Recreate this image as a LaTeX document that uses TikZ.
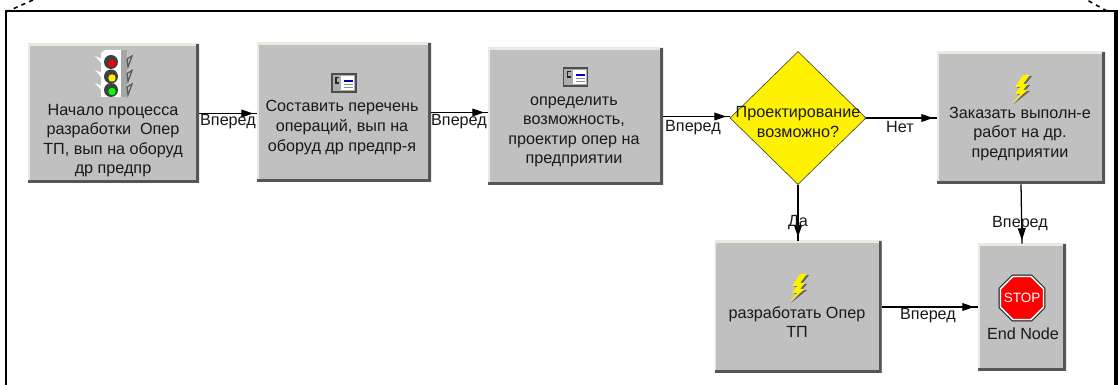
\documentclass[tikz,border=0pt]{standalone}
\usepackage{fontspec}
\setmainfont{Liberation Sans}
\usetikzlibrary{shapes.geometric,decorations.markings,arrows.meta}
\definecolor{boxgray}{RGB}{192,192,192}
\definecolor{edgegray}{RGB}{85,85,85}
\definecolor{litegray}{RGB}{236,233,225}
\tikzset{
    opbox/.style 2 args={rectangle,fill=boxgray,inner sep=0pt,
        minimum width=#1*0.025cm,minimum height=#2*0.025cm,
        path picture={
            \draw[litegray,line width=2.6pt] (path picture bounding box.south west)
                --(path picture bounding box.north west)--(path picture bounding box.north east);
            \draw[edgegray,line width=3.6pt] (path picture bounding box.south west)
                --(path picture bounding box.south east)--(path picture bounding box.north east);
        }},
    boxtext/.style={align=center,inner sep=0pt,text=black!90,font=\fontsize{11.5}{13.9}\selectfont},
    linktext/.style={inner sep=0pt,text=black!90,font=\fontsize{11.5}{12}\selectfont},
    flow/.style={line width=0.9pt,postaction={decorate},decoration={markings,
        mark=at position -2.5pt with {\arrow{Triangle[length=8.5pt,width=5.5pt]}}}},
    cardicon/.pic={
        \draw[black!70,fill=boxgray!90!black,line width=0.8pt] (-12,-9) rectangle (12,9);
        \fill[white] (-3,-7) rectangle (10,7);
        \draw[black!85,line width=1pt] (-8,-5.5)--(-5,-5.5) (-8,-5.5)--(-8,0)--(-5,0);
        \draw[blue!70!black,line width=0.9pt] (0,-2)--(9,-2);
        \draw[black!45,line width=0.7pt] (0,1.5)--(9,1.5) (0,4.5)--(9,4.5);
    },
    bolticon/.pic={
        \fill[black!60] (4,-13)--(-4,-1)--(1,-1)--(-4,6)--(1,6)--(-7,15)--(9,2)--(4,2)--(9,-4)--(4,-4)--(11,-13)--cycle;
        \path[fill=yellow] (2,-14)--(-6,-2)--(-1,-2)--(-6,5)--(-1,5)--(-9,14)--(7,1)--(2,1)--(7,-5)--(2,-5)--(9,-14)--cycle;
    },
    lighticon/.pic={
        \fill[white] (-18,-17)--(-11,-14)--(-11,-9)--cycle (-18,-3)--(-11,0)--(-11,5)--cycle (-18,10)--(-11,13)--(-11,18)--cycle;
        \fill[white] (-12,-20)--(-8,-23)--(14,-23)--(14,24)--(-12,24)--cycle;
        \fill[black!35] (8,-23)--(14,-23)--(14,24)--(8,24)--cycle;
        \foreach \ly/\lc in {-11/red,3.5/yellow,17/green}{
            \fill[black!75] (-2,\ly) circle (7);
            \fill[\lc] (-1,\ly+1.5) circle (3.7);
            \draw[black!65,line width=0.9pt] (15,\ly+5)--(19,\ly-6)--(14,\ly-3)--cycle;
        }
    },
}
\begin{document}
\begin{tikzpicture}[x=0.025cm,y=-0.025cm]
    \useasboundingbox (0,0) rectangle (1118,385);
    \fill[white] (0,0) rectangle (1118,385);
    % outer frame
    \draw[line width=1.4pt] (6,385)--(6,11)--(1116,11);
    \draw[line width=2.2pt] (1116,10)--(1116,385);
    \draw[line width=1.1pt,dashed] (6,12)--(33,0);
    \draw[line width=1.1pt,dashed] (1107,11)--(1087,0);
    % process boxes
    \node[opbox={171}{139}] (start) at (113.5,113.5) {};
    \node[opbox={174}{139}] (list) at (344,112.5) {};
    \node[opbox={175}{137}] (check) at (575.5,116.5) {};
    \node[diamond,draw=black!80,fill=yellow,inner sep=0pt,minimum width=136*0.025cm,minimum height=133*0.025cm] (possible) at (798,118) {};
    \node[opbox={168}{132}] (order) at (1021,118) {};
    \node[opbox={167}{132}] (develop) at (798,307) {};
    \node[opbox={88}{127}] (endnode) at (1022,307.5) {};
    % icons
    \pic at (113,73) {lighticon};
    \pic at (344,83) {cardicon};
    \pic at (575.5,77) {cardicon};
    \pic at (1021,89) {bolticon};
    \pic at (798,288) {bolticon};
    \node[regular polygon,regular polygon sides=8,draw=white,fill=red,line width=1.1pt,preaction={draw=black,line width=2.4pt},inner sep=0pt,minimum size=47*0.025cm] (stopsign) at (1022,298) {};
    \node[text=white,inner sep=0pt,font=\fontsize{9.6}{10}\selectfont] (stoptext) at (stopsign) {STOP};
    % box texts
    \node[boxtext] (starttext) at (113,140.5) {Начало процесса\\разработки\ \ Опер\\ТП, вып на оборуд\\др предпр};
    \node[boxtext] (listtext) at (342,127.5) {Составить перечень\\операций, вып на\\оборуд др предпр-я};
    \node[boxtext] (checktext) at (574,132) {определить\\возможность,\\проектир опер на\\предприятии};
    \node[boxtext] (possibletext) at (798,122) {Проектирование\\возможно?};
    \node[boxtext] (ordertext) at (1020,134) {Заказать выполн-е\\работ на др.\\предприятии};
    \node[boxtext] (developtext) at (797,322) {разработать Опер\\ТП};
    \node[boxtext] (endtext) at (1023,334) {End Node};
    % connectors
    \draw[flow] (start.east)--(start.east -| list.west);
    \draw[flow] (list.east)--(list.east -| check.west);
    \draw[flow] (check.east)--(check.east -| possible.west);
    \draw[flow] (possible.east)--(order.west);
    \draw[flow] (possible.south)--(develop.north);
    \draw[flow] (order.south)--(endnode.north);
    \draw[flow] (develop.east)--(develop.east -| endnode.west);
    % link labels
    \node[linktext] (link1) at (228,122) {Вперед};
    \node[linktext] (link2) at (459,122) {Вперед};
    \node[linktext] (link3) at (693,128) {Вперед};
    \node[linktext] (link4) at (900,127) {Нет};
    \node[linktext] (link5) at (798,223) {Да};
    \node[linktext] (link6) at (1020,224) {Вперед};
    \node[linktext] (link7) at (928,316) {Вперед};
\end{tikzpicture}
\end{document}
